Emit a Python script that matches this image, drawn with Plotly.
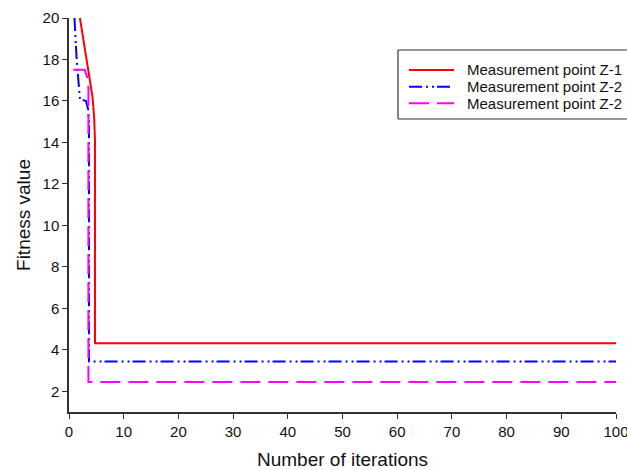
import plotly.graph_objects as go

# Convergence curves: iteration index vs best fitness value
iter_z1 = [2.0, 3.0, 3.8, 4.3, 4.6, 4.75, 4.75, 100]
fit_z1 = [20.0, 18.4, 17.2, 16.2, 15.2, 14.1, 4.32, 4.32]

iter_z2 = [1.0, 1.4, 2.0, 3.1, 3.5, 3.65, 3.65, 100]
fit_z2 = [20.0, 18.0, 16.1, 16.0, 15.6, 15.0, 3.43, 3.43]

iter_z3 = [0.8, 2.9, 3.4, 3.55, 3.55, 100]
fit_z3 = [17.5, 17.5, 17.05, 16.6, 2.45, 2.45]

series_names = ["Measurement point Z-1", "Measurement point Z-2", "Measurement point Z-2"]
series_colors = ["#ff0000", "#0000ff", "#ff00ff"]
series_dash = ["solid", "13px,4px,2px,4px,2px,3px", "20px,8px"]

x_ticks = [0, 10, 20, 30, 40, 50, 60, 70, 80, 90, 100]
y_ticks = [2, 4, 6, 8, 10, 12, 14, 16, 18, 20]

FONT = "Liberation Sans, Arial"
W, H = 627, 470
M_L, M_R, M_T, M_B = 69, 11, 18, 58

fig = go.Figure()
for xs, ys, name, col, dash in zip([iter_z1, iter_z2, iter_z3],
                                   [fit_z1, fit_z2, fit_z3],
                                   series_names, series_colors, series_dash):
    fig.add_trace(go.Scatter(x=xs, y=ys, mode="lines", name=name, showlegend=False,
                             line=dict(color=col, width=2, dash=dash)))

axis_common = dict(
    showline=True, linecolor="#333333", linewidth=1.5,
    ticks="outside", ticklen=5, tickcolor="#333333", tickwidth=1.2,
    showgrid=False, zeroline=False, mirror=False, automargin=False,
    tickfont=dict(family=FONT, size=15, color="#111111"),
)

# Boxed legend in the upper right, placed in pixel units converted to paper space
pw, ph = W - M_L - M_R, H - M_T - M_B


def px(x):
    return (x - M_L) / pw


def py(y):
    return (H - M_B - y) / ph


box_l, box_r, box_t, box_b = 398, W, 50, 119
border = dict(color="#333333", width=1.2)
shapes = [
    dict(type="rect", xref="paper", yref="paper",
         x0=px(box_l), x1=px(box_r), y0=py(box_b), y1=py(box_t),
         line=dict(width=0), fillcolor="white", layer="above"),
    dict(type="line", xref="paper", yref="paper",
         x0=px(box_l), x1=px(box_r), y0=py(box_t), y1=py(box_t), line=border, layer="above"),
    dict(type="line", xref="paper", yref="paper",
         x0=px(box_l), x1=px(box_r), y0=py(box_b), y1=py(box_b), line=border, layer="above"),
    dict(type="line", xref="paper", yref="paper",
         x0=px(box_l), x1=px(box_l), y0=py(box_b), y1=py(box_t), line=border, layer="above"),
]
annotations = []
row_y = [70, 86.7, 103.3]
for name, col, dash, ry in zip(series_names, series_colors, series_dash, row_y):
    shapes.append(dict(type="line", xref="paper", yref="paper",
                       x0=px(409), x1=px(454), y0=py(ry), y1=py(ry),
                       line=dict(color=col, width=2, dash=dash), layer="above"))
    annotations.append(dict(xref="paper", yref="paper", x=px(465), y=py(ry),
                            xanchor="left", yanchor="middle", showarrow=False,
                            text=name, font=dict(family=FONT, size=15, color="#111111")))

fig.update_layout(
    width=W, height=H,
    margin=dict(l=M_L, r=M_R, t=M_T, b=M_B, autoexpand=False),
    paper_bgcolor="white", plot_bgcolor="white",
    xaxis=dict(range=[0, 100], tickvals=x_ticks, ticklabeloverflow="allow",
               title=dict(text="Number of iterations", standoff=14,
                          font=dict(family=FONT, size=19, color="#111111")),
               **axis_common),
    yaxis=dict(range=[1, 20], tickvals=y_ticks,
               title=dict(text="Fitness value", standoff=7,
                          font=dict(family=FONT, size=19, color="#111111")),
               **axis_common),
    shapes=shapes,
    annotations=annotations,
    showlegend=False,
)

fig.write_html("out.html")
